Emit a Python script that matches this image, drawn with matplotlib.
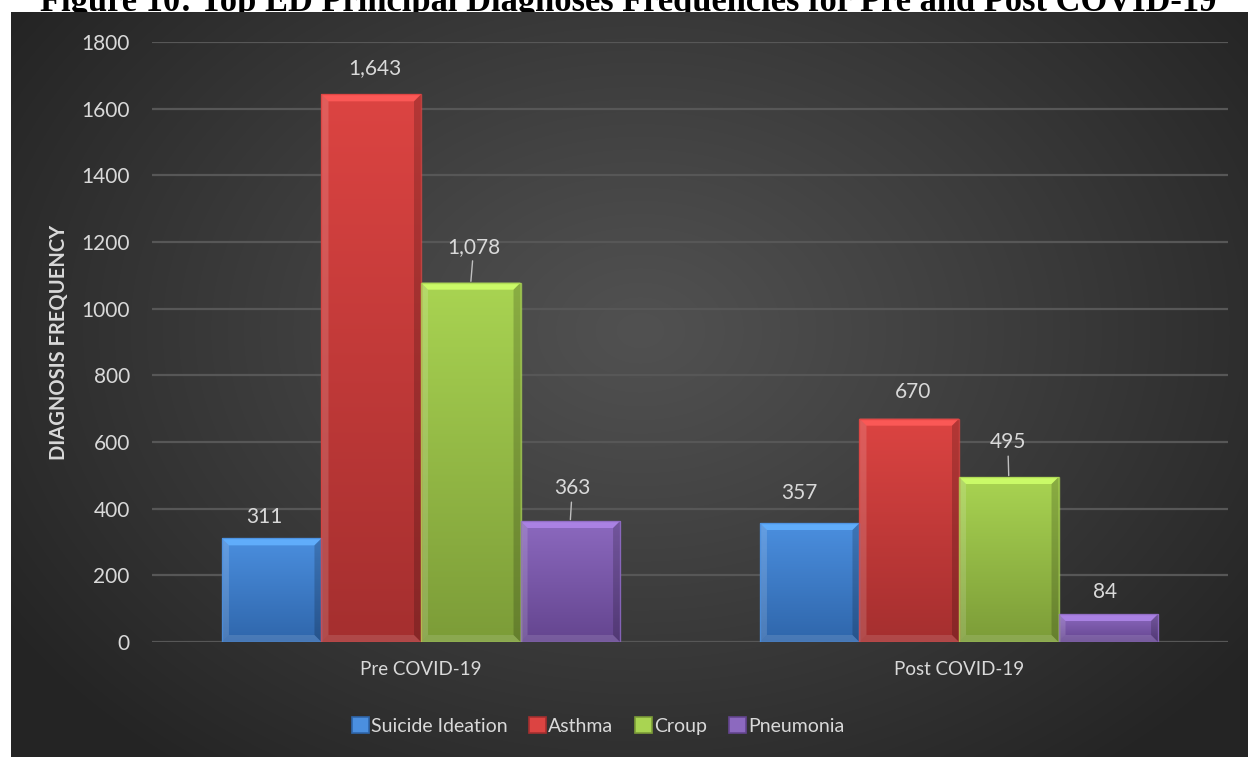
import numpy as np
import matplotlib
matplotlib.use("Agg")
import matplotlib.pyplot as plt
from matplotlib.patches import Rectangle, Polygon
from matplotlib.colors import LinearSegmentedColormap, to_rgb

# ---------------- data ----------------
periods = ["Pre COVID-19", "Post COVID-19"]
diagnoses = ["Suicide Ideation", "Asthma", "Croup", "Pneumonia"]
suicide_ideation = [311, 357]
asthma = [1643, 670]
croup = [1078, 495]
pneumonia = [363, 84]
series = [suicide_ideation, asthma, croup, pneumonia]
yticks = [0, 200, 400, 600, 800, 1000, 1200, 1400, 1600, 1800]
title = "Figure 10: Top ED Principal Diagnoses Frequencies for Pre and Post COVID-19"
ylabel = "DIAGNOSIS FREQUENCY"

# ---------------- style ----------------
top_colors = ["#4b8fdf", "#dc4442", "#a9d452", "#8c69bf"]
bot_colors = ["#2f66ab", "#a52f2f", "#7c9c38", "#64458f"]
# label offsets (px): dx, dy above bar top, leader line?
label_style = [
    [(-7, 21, False), (-10, 30, False)],
    [(4, 26, False), (4, 27, False)],
    [(3, 36, True), (-1, 35, True)],
    [(2, 33, True), (-3, 22, False)],
]

W, H = 1248, 757
DPI = 100
FONT = "Lato"
TXT = "#d9d9d9"
FS = 15

fig = plt.figure(figsize=(W / DPI, H / DPI), dpi=DPI)
fig.patch.set_facecolor("white")

# background panel with radial gradient
px0, py0 = 11, 12
bg = fig.add_axes([px0 / W, 0, 1 - px0 / W, (H - py0) / H], zorder=0)
bw, bh = W - px0, H - py0
xx, yy = np.meshgrid(np.arange(bw), np.arange(bh))
cx, cy = 640 - px0, 330 - py0
d = np.sqrt(((xx - cx) / 760.0) ** 2 + ((yy - cy) / 560.0) ** 2)
t = np.clip(d, 0, 1) ** 1.1
c_in = np.array(to_rgb("#515151"))
c_out = np.array(to_rgb("#242424"))
img = c_in[None, None, :] * (1 - t[..., None]) + c_out[None, None, :] * t[..., None]
bg.imshow(img, aspect="auto", interpolation="bilinear")
bg.set_axis_off()

# main axes
L, R, T, B = 152, 1228, 42, 642
ax = fig.add_axes([L / W, (H - B) / H, (R - L) / W, (B - T) / H], zorder=1)
ax.set_facecolor("none")
ax.set_ylim(0, 1800)
ax.set_xlim(-0.5, 1.5)
ax.set_yticks(yticks)
ax.set_yticklabels([str(v) for v in yticks], fontfamily=FONT, fontsize=FS, color=TXT)
ax.set_xticks(range(len(periods)))
ax.set_xticklabels(periods, fontfamily=FONT, fontsize=13.5, color=TXT)
ax.tick_params(axis="both", length=0)
ax.tick_params(axis="y", pad=16)
ax.tick_params(axis="x", pad=14)
for s in ax.spines.values():
    s.set_visible(False)
ax.grid(axis="y", color="#575757", linewidth=1.6, zorder=0)
ax.set_axisbelow(True)

ax.set_ylabel(ylabel, fontfamily=FONT, fontsize=14.5, fontweight="bold", color=TXT, labelpad=9)

n = len(series)
bwidth = 0.185
x = np.arange(len(periods))

def px_to_data(ax):
    inv = ax.transData.inverted()
    p0 = inv.transform((0, 0))
    p1 = inv.transform((1, 1))
    return p1[0] - p0[0], p1[1] - p0[1]

fig.canvas.draw()
dxp, dyp = px_to_data(ax)
bev = 7

for i, vals in enumerate(series):
    pos = x + (i - (n - 1) / 2) * bwidth
    bars = ax.bar(pos, vals, width=bwidth, color=top_colors[i], edgecolor="none",
                  zorder=2, label=diagnoses[i])
    cmap = LinearSegmentedColormap.from_list("g%d" % i, [bot_colors[i], top_colors[i]])
    for j, bar in enumerate(bars):
        x0, y0 = bar.get_x(), bar.get_y()
        w, h = bar.get_width(), bar.get_height()
        grad = np.linspace(0, 1, 256).reshape(-1, 1)
        im = ax.imshow(grad, cmap=cmap, origin="lower", aspect="auto",
                       extent=(x0, x0 + w, y0, y0 + h), zorder=2.1)
        im.set_clip_path(bar)
        # bevel
        bx, by = bev * dxp, bev * dyp
        bx = min(bx, w / 2); by = min(by, h / 2)
        x1, y1 = x0 + w, y0 + h
        top_c = tuple(np.clip(np.array(to_rgb(top_colors[i])) * 1.15 + 0.05, 0, 1))
        polys = [
            ([(x0, y1), (x1, y1), (x1 - bx, y1 - by), (x0 + bx, y1 - by)], top_c, 0.9),
            ([(x0, y0), (x0, y1), (x0 + bx, y1 - by), (x0 + bx, y0 + by)], "white", 0.14),
            ([(x1, y0), (x1, y1), (x1 - bx, y1 - by), (x1 - bx, y0 + by)], "black", 0.18),
            ([(x0, y0), (x1, y0), (x1 - bx, y0 + by), (x0 + bx, y0 + by)], "white", 0.12),
        ]
        for pts, c, a in polys:
            ax.add_patch(Polygon(pts, closed=True, facecolor=c, alpha=a, edgecolor="none", zorder=2.2))
        ax.add_patch(Rectangle((x0, y0), w, h, facecolor="none",
                               edgecolor=top_colors[i], linewidth=1.0, alpha=0.8, zorder=2.3))
        # label
        ddx, ddy, lead = label_style[i][j]
        txt = f"{vals[j]:,}"
        kw = dict(xy=(x0 + w / 2, y1), xytext=(ddx * 0.72, ddy * 0.72), textcoords="offset points",
                  ha="center", va="center", fontfamily=FONT, fontsize=FS, color=TXT, zorder=4)
        if lead:
            kw["arrowprops"] = dict(arrowstyle="-", color="#bfbfbf", lw=1.0, shrinkA=1, shrinkB=1)
        ax.annotate(txt, **kw)

# legend
handles = [Rectangle((0, 0), 1, 1, facecolor=top_colors[i], edgecolor=bot_colors[i], linewidth=1.2)
           for i in range(n)]
leg = fig.legend(handles, diagnoses, loc="center", bbox_to_anchor=(598 / W, 1 - 726 / H),
                 ncol=4, frameon=False, prop={"family": FONT, "size": 14},
                 handlelength=0.9, handleheight=0.9, handletextpad=0.1, columnspacing=1.1)
for tx in leg.get_texts():
    tx.set_color(TXT)

# title (partially hidden behind panel, as in the reference)
tt = fig.text(628 / W, 1 - 11 / H, title, ha="center", va="baseline",
              fontfamily="Liberation Serif", fontweight="bold", fontsize=20, color="black", zorder=-1)
fig.canvas.draw()
ext = tt.get_window_extent()
tt.set_fontsize(20 * 1177 / ext.width)

fig.savefig("out.png", dpi=DPI, facecolor="white")
